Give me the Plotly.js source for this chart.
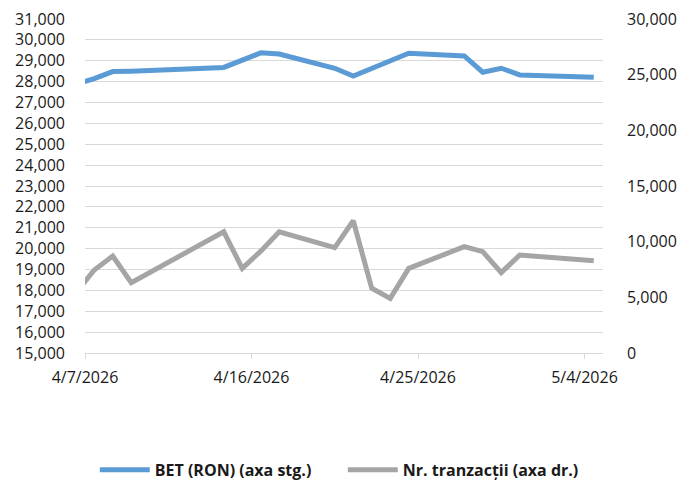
<!DOCTYPE html>
<html>
<head>
<meta charset="utf-8">
<script src="https://cdn.plot.ly/plotly-3.0.1.min.js"></script>
<style>html,body{margin:0;padding:0;background:#fff;}#chart{width:682px;height:486px;}</style>
</head>
<body>
<div id="chart"></div>
<script>
// Trading dates
var dates = ['2026-04-06','2026-04-07','2026-04-08','2026-04-09','2026-04-14','2026-04-15','2026-04-16','2026-04-17',
             '2026-04-20','2026-04-21','2026-04-22','2026-04-23','2026-04-24','2026-04-27','2026-04-28','2026-04-29',
             '2026-04-30','2026-05-04'];
// BET index (RON), left axis
var betValues = [27880, 28140, 28480, 28500, 28680, 29020, 29380, 29320,
                 28640, 28270, 28630, 29000, 29360, 29230, 28450, 28640,
                 28320, 28210];
// Number of transactions, right axis
var tradesValues = [5400, 7455, 8710, 6310, 10890, 7600, 9150, 10890,
                    9460, 11880, 5810, 4910, 7600, 9550, 9100, 7215,
                    8800, 8290];
var seriesNames = ['BET (RON) (axa stg.)', 'Nr. tranzacții (axa dr.)'];
var tickDates = ['2026-04-07','2026-04-16','2026-04-25','2026-05-04'];
var tickLabels = ['4/7/2026','4/16/2026','4/25/2026','5/4/2026'];

// points sit in the middle of each day slot
var xs = dates.map(function(d){ return d + ' 12:00'; });

var font = {family: '"Open Sans", "Noto Sans", sans-serif', size: 16, color: '#1a1a1a'};

var traces = [
  {x: xs, y: betValues, name: seriesNames[0], type: 'scatter', mode: 'lines',
   line: {color: '#5B9BD5', width: 5}, yaxis: 'y'},
  {x: xs, y: tradesValues, name: seriesNames[1], type: 'scatter', mode: 'lines',
   line: {color: '#A5A5A5', width: 5}, yaxis: 'y2'}
];

var layout = {
  width: 682, height: 486,
  margin: {l: 85, r: 79, t: 19, b: 133, autoexpand: false},
  paper_bgcolor: '#fff', plot_bgcolor: '#fff',
  font: font,
  showlegend: true,
  legend: {orientation: 'h', xref: 'container', yref: 'container',
           x: 0.139, xanchor: 'left', y: 0.033, yanchor: 'middle',
           font: {family: '"Open Sans", "Noto Sans", sans-serif', size: 16, color: '#1a1a1a', weight: 'bold'},
           entrywidth: 183, entrywidthmode: 'pixels', itemwidth: 50},
  xaxis: {type: 'date', range: ['2026-04-07', '2026-05-05'],
          tickmode: 'array', tickvals: tickDates, ticktext: tickLabels,
          showgrid: false, zeroline: false, showline: true, linecolor: '#d9d9d9', linewidth: 1,
          ticks: 'outside', ticklen: 5, tickcolor: '#d9d9d9', ticklabelstandoff: 5,
          tickfont: font, fixedrange: true, automargin: false},
  yaxis: {range: [15000, 31000], dtick: 1000, tick0: 15000, tickformat: ',d',
          showgrid: true, gridcolor: '#d9d9d9', gridwidth: 1, zeroline: false, showline: false,
          ticks: '', ticklabelstandoff: 19, tickfont: font, fixedrange: true, automargin: false},
  yaxis2: {range: [0, 30000], dtick: 5000, tick0: 0, tickformat: ',d', overlaying: 'y', side: 'right',
           showgrid: false, zeroline: false, showline: false,
           ticks: '', ticklabelstandoff: 23, tickfont: font, fixedrange: true, automargin: false}
};

Plotly.newPlot('chart', traces, layout, {staticPlot: true, displayModeBar: false});
</script>
</body>
</html>
